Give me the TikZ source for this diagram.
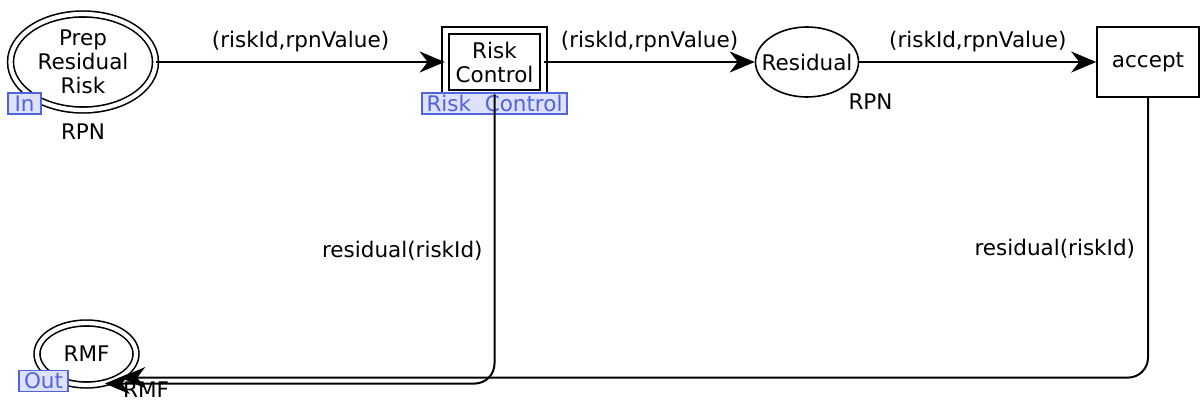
\documentclass[tikz,border=0pt]{standalone}
\usepackage{fontspec}
\setmainfont{DejaVu Sans}
\usepackage{xcolor}
\usetikzlibrary{arrows.meta, positioning, shapes.geometric}
\definecolor{tagblue}{RGB}{80,100,220}
\definecolor{tagfill}{RGB}{222,225,252}

\begin{document}
\begin{tikzpicture}[
  x=1pt, y=-1pt,
  every node/.style={font=\fontsize{21.5}{24}\selectfont},
  place/.style={ellipse, draw, line width=1.6pt, inner sep=0pt, align=center},
  ioplace/.style={place, double, double distance=4.3pt},
  trans/.style={rectangle, draw, line width=1.6pt, inner sep=0pt, align=center},
  subst/.style={trans, double, double distance=5.4pt},
  tag/.style={rectangle, draw=tagblue, fill=tagfill, text=tagblue,
              line width=1.4pt, inner sep=0pt, minimum height=21pt},
  arc/.style={-{Stealth[length=25pt, width=21pt, inset=8pt]}, line width=2pt},
  lbl/.style={inner sep=0pt}
]
  \useasboundingbox (0,0) rectangle (1201,401);

  % places and transitions
  \node[ioplace, minimum width=145pt, minimum height=96pt] (prep) at (83,62)   {Prep\\Residual\\Risk};
  \node[subst, minimum width=98pt, minimum height=63pt]   (rc)   at (494.5,62) {Risk\\Control};
  \node[place, inner xsep=-10pt, minimum width=103pt, minimum height=70pt] (res) at (807,62) {Residual};
  \node[trans, minimum width=102pt, minimum height=70pt]  (acc)  at (1148,62)  {accept};
  \node[ioplace, minimum width=99pt, minimum height=62pt] (rmf)  at (86.5,354) {RMF};

  % colour sets
  \node[lbl] (prepcs) at (83,132)    {RPN};
  \node[lbl] (rescs)  at (870.5,102) {RPN};
  \node[lbl] (rmfcs)  at (146,390)   {RMF};

  % port and subpage tags
  \node[tag, minimum width=33pt]  (intag)  at (24.5,103.5)  {In};
  \node[tag, minimum width=145pt] (rctag)  at (494.5,103.5) {Risk\ \ Control};
  \node[tag, minimum width=49pt]  (outtag) at (43.5,381)    {Out};

  % arcs
  \draw[arc] (prep) -- node[lbl, above=9pt] (lab1) {(riskId,rpnValue)} (rc);
  \draw[arc] (rc)   -- node[lbl, above=9pt] (lab2) {(riskId,rpnValue)} (res);
  \draw[arc] (res)  -- node[lbl, above=9pt] (lab3) {(riskId,rpnValue)} (acc);
  \draw[arc, rounded corners=20pt] (rc.south)  |- node[lbl, pos=0.27, left=11pt] (lab4) {residual(riskId)} (rmf.-58);
  \draw[arc, rounded corners=20pt] (acc.south) |- node[lbl, pos=0.27, left=12pt] (lab5) {residual(riskId)} (rmf.-35);
\end{tikzpicture}
\end{document}
